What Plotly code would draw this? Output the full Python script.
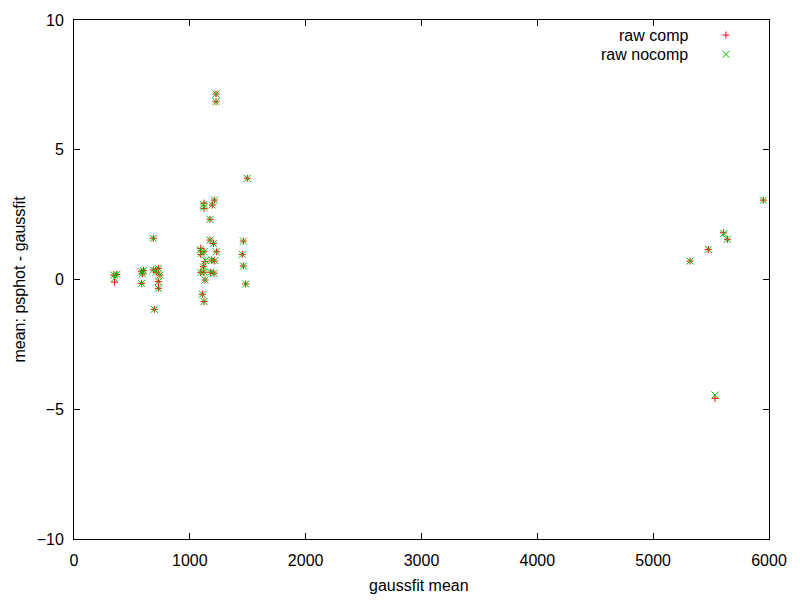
import plotly.graph_objects as go

# raw comp (red +)
comp_x = [345, 350, 370, 584, 590, 584, 600, 685, 685, 693, 728, 742, 728, 728, 710,
          1094, 1094, 1122, 1122, 1122, 1211, 1194, 1174, 1174, 1203, 1232, 1131, 1189,
          1211, 1117, 1094, 1180, 1209, 1122, 1131, 1108, 1122, 1226, 1226, 1496,
          1462, 1453, 1462, 1482, 5318, 5476, 5606, 5641, 5951, 5534]
comp_y = [0.17, -0.10, 0.20, 0.30, 0.22, -0.15, 0.35, 1.59, 0.37, -1.15, 0.43, 0.17, -0.08, -0.34, 0.28,
          1.20, 0.97, 1.07, 2.94, 2.74, 3.06, 2.87, 2.32, 1.52, 1.39, 1.07, 0.69, 0.75,
          0.71, 0.49, 0.28, 0.28, 0.24, 0.28, -0.02, -0.57, -0.85, 7.15, 6.85, 3.90,
          1.48, 0.97, 0.52, -0.17, 0.71, 1.16, 1.80, 1.55, 3.06, -4.58]

# raw nocomp (green x)
nocomp_x = [345, 350, 370, 584, 590, 584, 600, 685, 685, 693, 728, 742, 728, 728, 710,
            1090, 1098, 1122, 1118, 1122, 1211, 1194, 1174, 1174, 1203, 1228, 1135, 1189,
            1215, 1117, 1094, 1180, 1209, 1122, 1131, 1108, 1122, 1226, 1226, 1496,
            1462, 1453, 1462, 1482, 5318, 5476, 5610, 5641, 5951, 5534]
nocomp_y = [0.17, 0.05, 0.20, 0.30, 0.22, -0.15, 0.35, 1.59, 0.37, -1.15, 0.43, 0.17, -0.08, -0.34, 0.28,
            1.15, 1.00, 1.07, 2.90, 2.78, 3.06, 2.87, 2.32, 1.52, 1.39, 1.07, 0.73, 0.75,
            0.73, 0.49, 0.28, 0.28, 0.24, 0.28, -0.02, -0.57, -0.85, 7.15, 6.85, 3.90,
            1.48, 0.97, 0.52, -0.17, 0.71, 1.16, 1.77, 1.55, 3.06, -4.45]

series_names = ["raw comp", "raw nocomp"]
series_colors = ["#ff0000", "#00c000"]
x_ticks = [0, 1000, 2000, 3000, 4000, 5000, 6000]
y_ticks = [-10, -5, 0, 5, 10]
x_title = "gaussfit mean"
y_title = "mean: psphot - gaussfit"

FONT = "Liberation Sans, Arial, sans-serif"
FS = 16

fig = go.Figure()
fig.add_trace(go.Scatter(x=comp_x, y=comp_y, mode="markers", name=series_names[0],
                         marker=dict(symbol="cross-thin", size=5,
                                     line=dict(color=series_colors[0], width=1))))
fig.add_trace(go.Scatter(x=nocomp_x, y=nocomp_y, mode="markers", name=series_names[1],
                         marker=dict(symbol="x-thin", size=7,
                                     line=dict(color=series_colors[1], width=1))))

axis_common = dict(showgrid=False, zeroline=False, showline=True, linecolor="black",
                   linewidth=1, mirror="ticks", ticks="inside", ticklen=6,
                   tickcolor="black", automargin=False,
                   tickfont=dict(family=FONT, size=FS, color="black"))

fig.update_xaxes(range=[0, 6000], tickvals=x_ticks, ticklabelstandoff=7, **axis_common)
fig.update_yaxes(range=[-10, 10], tickvals=y_ticks, ticklabelstandoff=6, **axis_common)

# axis titles
fig.add_annotation(xref="paper", yref="paper", x=0.496, y=-0.0887, text=x_title,
                   showarrow=False, xanchor="center", yanchor="middle",
                   font=dict(family=FONT, size=FS, color="black"))
fig.add_annotation(xref="paper", yref="paper", x=-0.0791, y=0.5, text=y_title,
                   showarrow=False, xanchor="center", yanchor="middle", textangle=-90,
                   font=dict(family=FONT, size=FS, color="black"))

# legend (gnuplot style: right-aligned text, key sample to the right)
leg_y = [0.971, 0.934]
for i in range(2):
    fig.add_annotation(xref="paper", yref="paper", x=0.886, y=leg_y[i], text=series_names[i],
                       showarrow=False, xanchor="right", yanchor="middle",
                       font=dict(family=FONT, size=FS, color="black"))
d = 3.5
cx = 0.938 * 695 + 74
for i in range(2):
    cy = 539 - leg_y[i] * 519
    if i == 0:
        segs = [((cx - d, cy), (cx + d, cy)), ((cx, cy - d), (cx, cy + d))]
    else:
        segs = [((cx - d, cy - d), (cx + d, cy + d)), ((cx - d, cy + d), (cx + d, cy - d))]
    for (x0, y0), (x1, y1) in segs:
        fig.add_shape(type="line", xref="paper", yref="paper",
                      x0=(x0 - 74) / 695, x1=(x1 - 74) / 695,
                      y0=(539 - y0) / 519, y1=(539 - y1) / 519,
                      line=dict(color=series_colors[i], width=1))

fig.update_layout(width=792, height=592, showlegend=False,
                  plot_bgcolor="white", paper_bgcolor="white",
                  margin=dict(l=66, r=31, t=12, b=61, autoexpand=False),
                  font=dict(family=FONT, size=FS, color="black"))

fig.write_html("out.html")
